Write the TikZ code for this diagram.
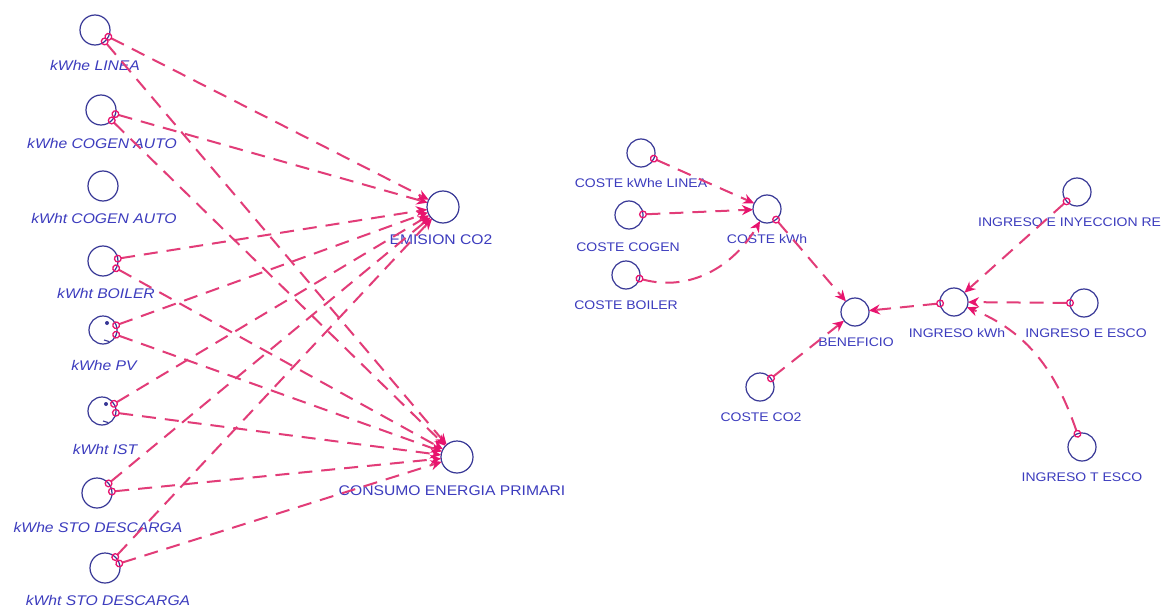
\documentclass[tikz,border=0pt]{standalone}
\usepackage{fontspec}
\newfontfamily\labfont{Liberation Sans}[FakeStretch=1.12]
\usetikzlibrary{arrows.meta}
\definecolor{nodeline}{RGB}{55,55,150}
\definecolor{labtext}{RGB}{60,60,190}
\definecolor{linkpink}{RGB}{226,60,120}
\definecolor{tippink}{RGB}{232,20,110}

\begin{document}
\begin{tikzpicture}[x=1pt,y=1pt,
  auxv/.style={circle,draw=nodeline,line width=1.2pt,inner sep=0pt,outer sep=0pt,minimum size=#1},
  auxv/.default=28pt,
  leftlab/.style={text=labtext,inner sep=0pt,font=\labfont\fontsize{14}{16}\selectfont\itshape},
  midlab/.style={text=labtext,inner sep=0pt,font=\labfont\fontsize{14}{16}\selectfont},
  rightlab/.style={text=labtext,inner sep=0pt,font=\labfont\fontsize{12.5}{14}\selectfont},
  link/.style={draw=linkpink,line width=2pt,dash pattern=on 14pt off 9pt,
    shorten <=-4pt,
    {Circle[open,length=8pt,width=8pt,line width=1.3pt,color=tippink]}-{Stealth[length=11pt,width=10pt,color=tippink]}},
  datamark/.style={fill=nodeline}
]
\useasboundingbox (0,0) rectangle (1162,-610);
\fill[white] (0,0) rectangle (1162,-610);

% ---------- input variables (left column) ----------
\node[auxv=30pt] (a1) at (95,-30) {};
\node[leftlab] (t1) at (95,-65) {kWhe LINEA};
\node[auxv=30pt] (a2) at (101,-110) {};
\node[leftlab] (t2) at (102,-143) {kWhe COGEN AUTO};
\node[auxv=30pt] (a3) at (103,-186) {};
\node[leftlab] (t3) at (104,-218) {kWht COGEN AUTO};
\node[auxv=30pt] (a4) at (103,-261) {};
\node[leftlab] (t4) at (106,-293) {kWht BOILER};
\node[auxv=28pt] (a5) at (103,-330) {};
\node[leftlab] (t5) at (104,-365) {kWhe PV};
\node[auxv=28pt] (a6) at (102,-411) {};
\node[leftlab] (t6) at (105,-449) {kWht IST};
\node[auxv=30pt] (a7) at (97,-493) {};
\node[leftlab] (t7) at (98,-527) {kWhe STO DESCARGA};
\node[auxv=30pt] (a8) at (105,-568) {};
\node[leftlab] (t8) at (108,-600) {kWht STO DESCARGA};

% data marks inside the PV and IST variables
\foreach \v in {a5,a6}{
  \fill[datamark] ([shift={(4,7)}]\v.center) circle (2);
  \draw[nodeline,line width=1.1pt] ([shift={(1,-10)}]\v.center) -- ([shift={(6,-11.5)}]\v.center);
}

% ---------- output variables ----------
\node[auxv=32pt] (em) at (443,-207) {};
\node[midlab] (tem) at (441,-240) {EMISION CO2};
\node[auxv=32pt] (cp) at (457,-457) {};
\node[midlab] (tcp) at (452,-491) {CONSUMO ENERGIA PRIMARI};

\foreach \v in {a1,a2,a4,a5,a6,a7,a8}{
  \draw[link] (\v) -- (em);
  \draw[link] (\v) -- (cp);
}

% ---------- cost / revenue sector ----------
\node[auxv] (ckl) at (641,-153) {};
\node[rightlab] (tckl) at (641,-183) {COSTE kWhe LINEA};
\node[auxv] (ccg) at (629,-215) {};
\node[rightlab] (tccg) at (628,-247) {COSTE COGEN};
\node[auxv] (cbo) at (626,-275) {};
\node[rightlab] (tcbo) at (626,-305) {COSTE BOILER};
\node[auxv] (ckw) at (767,-209) {};
\node[rightlab] (tckw) at (767,-239) {COSTE kWh};
\node[auxv] (ben) at (855,-312) {};
\node[rightlab] (tben) at (856,-342) {BENEFICIO};
\node[auxv] (cco) at (760,-387) {};
\node[rightlab] (tcco) at (761,-417) {COSTE CO2};
\node[auxv] (ikw) at (954,-302) {};
\node[rightlab] (tikw) at (957,-333) {INGRESO kWh};
\node[auxv] (iiy) at (1077,-192) {};
\node[rightlab,anchor=west] (tiiy) at (978,-222) {INGRESO E INYECCION RE};
\node[auxv] (ies) at (1084,-303) {};
\node[rightlab] (ties) at (1086,-333) {INGRESO E ESCO};
\node[auxv] (ite) at (1082,-447) {};
\node[rightlab] (tite) at (1082,-477) {INGRESO T ESCO};

\draw[link] (ckl) -- (ckw);
\draw[link] (ccg) -- (ckw);
\draw[link] (cbo) to[out=-15,in=240] (ckw);
\draw[link] (ckw) -- (ben);
\draw[link] (cco) -- (ben);
\draw[link] (ikw) -- (ben);
\draw[link] (iiy) -- (ikw);
\draw[link] (ies) -- (ikw);
\draw[link] (ite) to[out=109,in=-22] (ikw);
\end{tikzpicture}
\end{document}
